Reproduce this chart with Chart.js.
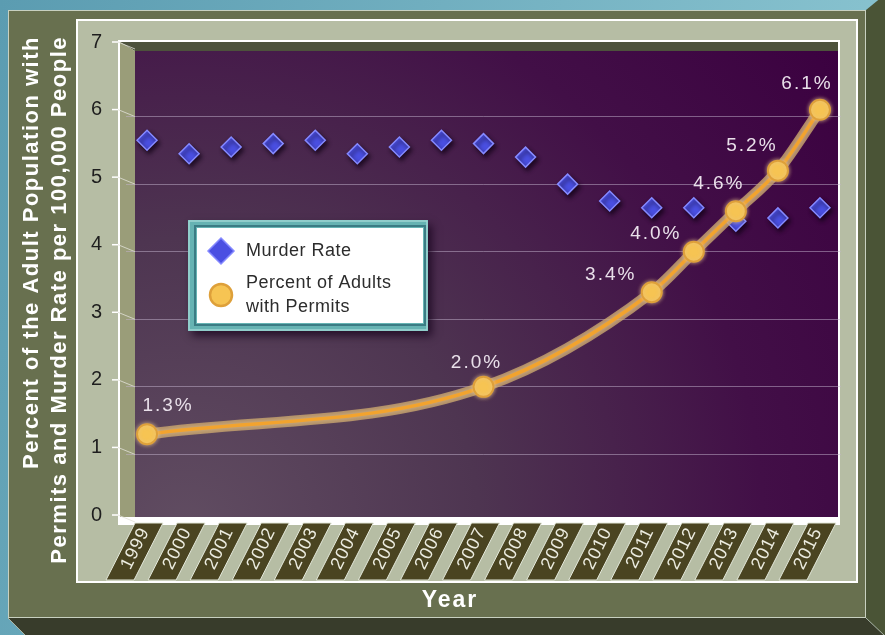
<!DOCTYPE html>
<html>
<head>
<meta charset="utf-8">
<title>Murder Rate and Adults with Permits</title>
<script src="https://cdn.jsdelivr.net/npm/chart.js@4.4.1/dist/chart.umd.min.js"></script>
<style>
    html, body { margin: 0; padding: 0; background: #6aaabb; }
    #chart { display: block; }
</style>
</head>
<body>
<canvas id="chart" width="885" height="635"></canvas>
<script>
/*********************** Data ************************/
var years = ['1999', '2000', '2001', '2002', '2003', '2004', '2005', '2006', '2007',
             '2008', '2009', '2010', '2011', '2012', '2013', '2014', '2015'];
var murderRate = [5.65, 5.45, 5.55, 5.6, 5.65, 5.45, 5.55, 5.65, 5.6,
                  5.4, 5.0, 4.75, 4.65, 4.65, 4.45, 4.5, 4.65];
var permitPercent = [1.3, null, null, null, null, null, null, null, 2.0,
                     null, null, null, 3.4, 4.0, 4.6, 5.2, 6.1];
var yTicks = [0, 1, 2, 3, 4, 5, 6, 7];
var seriesNames = ['Murder Rate', 'Percent of Adults with Permits'];
var yTitle = ['Percent of the Adult Population with', 'Permits and Murder Rate per 100,000 People'];
var xTitle = 'Year';

/*********************** Look ************************/
var FONT = 'Arial, "Liberation Sans", Helvetica, sans-serif';
// where each % label sits relative to its point (dx, dy)
var labelNudge = { 0: [21, -28], 8: [-7, -24], 12: [-41, -17], 13: [-38, -18],
                   14: [-17, -27], 15: [-26, -25], 16: [-13, -26] };

function poly(ctx, pts) {
    ctx.beginPath();
    ctx.moveTo(pts[0][0], pts[0][1]);
    for (var i = 1; i < pts.length; i++) ctx.lineTo(pts[i][0], pts[i][1]);
    ctx.closePath();
    ctx.fill();
}

/*********************** Frame + plot background ************************/
var framePlugin = {
    id: 'frame',
    beforeDraw: function (chart) {
        var ctx = chart.ctx, a = chart.chartArea;
        var x = chart.scales.x, y = chart.scales.y;
        ctx.save();

        // sky behind the board
        var sky = ctx.createLinearGradient(0, 0, 885, 300);
        sky.addColorStop(0, '#5b9cb1');
        sky.addColorStop(1, '#8cc6d2');
        ctx.fillStyle = sky;
        ctx.fillRect(0, 0, 885, 635);

        // board sides
        ctx.fillStyle = '#4a5436';
        poly(ctx, [[866, 10], [888, -8], [888, 640], [866, 618]]);
        ctx.fillStyle = '#383c2b';
        poly(ctx, [[8, 618], [866, 618], [886, 637], [27, 637]]);
        ctx.strokeStyle = '#a9b4a4';
        ctx.lineWidth = 1;
        ctx.beginPath();
        ctx.moveTo(866, 618); ctx.lineTo(885, 636);
        ctx.moveTo(8, 618); ctx.lineTo(26, 636);
        ctx.stroke();

        // board front
        ctx.fillStyle = '#68704f';
        ctx.fillRect(8, 10, 858, 608);
        ctx.strokeStyle = '#c8d0c0';
        ctx.strokeRect(8.5, 10.5, 857, 607);

        // light panel
        ctx.fillStyle = '#b6bda4';
        ctx.fillRect(77, 20, 780, 562);
        ctx.strokeStyle = '#ffffff';
        ctx.lineWidth = 2;
        ctx.strokeRect(77, 20, 780, 562);

        // plot box: white frame, 3D walls, dark back
        var L = a.left, T = a.top, R = a.right, B = a.bottom;
        ctx.fillStyle = '#ffffff';
        ctx.fillRect(L - 8, T - 9, R - L + 7, B - T + 12);
        ctx.fillStyle = '#4d523c';
        poly(ctx, [[L - 6, T - 7], [R - 3, T - 7], [R - 3, T + 2], [L + 9, T + 2]]);
        ctx.fillStyle = '#9a9d79';
        poly(ctx, [[L - 6, T - 7], [L + 9, T + 2], [L + 9, B - 5], [L - 6, B - 5]]);
        var bg = ctx.createRadialGradient(L + 60, B + 10, 10, L + 60, B + 10, 820);
        bg.addColorStop(0, '#604c61');
        bg.addColorStop(0.35, '#4e3551');
        bg.addColorStop(0.7, '#420f47');
        bg.addColorStop(1, '#3b0040');
        ctx.fillStyle = bg;
        ctx.fillRect(L + 9, T + 2, R - L - 12, B - T - 7);

        // y tick marks running onto the wall
        yTicks.forEach(function (v) {
            var py = y.getPixelForValue(v);
            ctx.strokeStyle = '#ffffff';
            ctx.lineWidth = 1.5;
            ctx.beginPath();
            ctx.moveTo(L - 14, py - 7); ctx.lineTo(L - 8, py - 7);
            ctx.stroke();
            ctx.strokeStyle = 'rgba(225,225,215,0.8)';
            ctx.lineWidth = 1;
            ctx.beginPath();
            ctx.moveTo(L - 8, py - 7); ctx.lineTo(L + 9, py);
            ctx.stroke();
        });

        // slanted tiles under the year labels
        ctx.lineWidth = 1;
        years.forEach(function (yr, i) {
            var px = x.getPixelForTick(i);
            ctx.fillStyle = '#4a4421';
            ctx.strokeStyle = '#e3e8da';
            ctx.beginPath();
            ctx.moveTo(px - 12, B + 1); ctx.lineTo(px + 16, B + 1);
            ctx.lineTo(px - 13, B + 58); ctx.lineTo(px - 41, B + 58);
            ctx.closePath();
            ctx.fill();
            ctx.stroke();
        });

        // axis titles
        ctx.fillStyle = '#ffffff';
        ctx.font = 'bold 22px ' + FONT;
        ctx.letterSpacing = '1.5px';
        ctx.textAlign = 'right';
        ctx.textBaseline = 'alphabetic';
        [[38, yTitle[0]], [66, yTitle[1]]].forEach(function (ln) {
            ctx.save();
            ctx.translate(ln[0], 36);
            ctx.rotate(-Math.PI / 2);
            ctx.fillText(ln[1], 0, 0);
            ctx.restore();
        });
        ctx.font = 'bold 23px ' + FONT;
        ctx.letterSpacing = '2px';
        ctx.textAlign = 'center';
        ctx.textBaseline = 'middle';
        ctx.fillText(xTitle, 450, 601);

        ctx.restore();
        // chart's own tick text gets the same loose spacing
        ctx.letterSpacing = '1px';
    }
};

/*********************** Glow and shadows on the series ************************/
var glowPlugin = {
    id: 'glow',
    beforeDatasetDraw: function (chart, args) {
        var ctx = chart.ctx;
        ctx.save();
        if (args.index === 0) {
            ctx.shadowColor = 'rgba(15,0,20,0.75)';
            ctx.shadowBlur = 4;
            ctx.shadowOffsetX = 2;
            ctx.shadowOffsetY = 3;
        } else {
            var line = args.meta.dataset;
            var saved = line.options;
            line.options = Object.assign({}, saved, { borderWidth: 11, borderColor: 'rgba(200,165,110,0.8)' });
            line.draw(ctx, chart.chartArea);
            line.options = saved;
            ctx.shadowColor = 'rgba(230,195,140,0.8)';
            ctx.shadowBlur = 4;
        }
    },
    afterDatasetDraw: function (chart) {
        chart.ctx.restore();
    }
};

/*********************** % labels + legend ************************/
var labelPlugin = {
    id: 'labels',
    afterDatasetsDraw: function (chart) {
        var ctx = chart.ctx;
        var meta = chart.getDatasetMeta(1);
        ctx.save();
        ctx.font = '19px ' + FONT;
        ctx.letterSpacing = '2px';
        ctx.fillStyle = '#e9e0ea';
        ctx.textAlign = 'center';
        ctx.textBaseline = 'middle';
        meta.data.forEach(function (pt, i) {
            var v = permitPercent[i];
            if (v == null) return;
            var n = labelNudge[i] || [0, -25];
            ctx.fillText(v.toFixed(1) + '%', pt.x + n[0], pt.y + n[1]);
        });
        ctx.restore();
    },
    afterDraw: function (chart) {
        var ctx = chart.ctx;
        var ds = chart.data.datasets;
        ctx.save();
        // shadow + teal frame + white box
        ctx.shadowColor = 'rgba(20,0,25,0.7)';
        ctx.shadowBlur = 8;
        ctx.shadowOffsetX = 4;
        ctx.shadowOffsetY = 5;
        ctx.fillStyle = '#66b3b3';
        ctx.fillRect(188, 220, 240, 111);
        ctx.shadowColor = 'transparent';
        ctx.strokeStyle = '#9fd6d4';
        ctx.lineWidth = 1.5;
        ctx.strokeRect(189, 221, 238, 109);
        ctx.strokeStyle = '#3b7c84';
        ctx.lineWidth = 2;
        ctx.strokeRect(195, 226, 230, 99);
        ctx.fillStyle = '#ffffff';
        ctx.fillRect(197, 228, 226, 95);

        // markers
        ctx.fillStyle = ds[0].backgroundColor;
        ctx.strokeStyle = ds[0].borderColor;
        ctx.lineWidth = 1.5;
        ctx.beginPath();
        ctx.moveTo(221, 238); ctx.lineTo(234, 251); ctx.lineTo(221, 264); ctx.lineTo(208, 251);
        ctx.closePath();
        ctx.fill();
        ctx.stroke();
        ctx.fillStyle = ds[1].pointBackgroundColor;
        ctx.strokeStyle = ds[1].pointBorderColor;
        ctx.lineWidth = 2.5;
        ctx.beginPath();
        ctx.arc(221, 295, 11, 0, Math.PI * 2);
        ctx.fill();
        ctx.stroke();

        // names, wrapped to the box
        ctx.font = '18px ' + FONT;
        ctx.letterSpacing = '0.5px';
        ctx.fillStyle = '#2c2c2c';
        ctx.textAlign = 'left';
        ctx.textBaseline = 'middle';
        ctx.fillText(ds[0].label, 246, 251);
        var words = ds[1].label.split(' '), lines = [''];
        words.forEach(function (w) {
            var cur = lines[lines.length - 1];
            var test = cur ? cur + ' ' + w : w;
            if (ctx.measureText(test).width > 170 && cur) lines.push(w);
            else lines[lines.length - 1] = test;
        });
        lines.forEach(function (ln, k) {
            ctx.fillText(ln, 246, 283 + k * 24);
        });
        ctx.restore();
    }
};

/*********************** Chart ************************/
var ctx = document.getElementById('chart').getContext('2d');
var myChart = new Chart(ctx, {
    type: 'line',
    data: {
        labels: years,
        datasets: [{
            label: seriesNames[0],
            data: murderRate,
            showLine: false,
            order: 2,
            pointStyle: 'rectRot',
            pointRadius: 10,
            backgroundColor: '#4a4fe2',
            borderColor: '#8589ff',
            pointBorderWidth: 1.5
        }, {
            label: seriesNames[1],
            data: permitPercent,
            order: 1,
            spanGaps: true,
            cubicInterpolationMode: 'monotone',
            borderColor: '#f2a32e',
            borderWidth: 3.5,
            pointRadius: 10,
            pointBackgroundColor: '#f6c453',
            pointBorderColor: '#dea03a',
            pointBorderWidth: 2
        }]
    },
    options: {
        responsive: false,
        animation: false,
        layout: { padding: { top: 49, right: 44, bottom: 0, left: 0 } },
        plugins: {
            legend: { display: false },
            tooltip: { enabled: false }
        },
        scales: {
            x: {
                offset: true,
                grid: { display: false },
                border: { display: false },
                ticks: {
                    color: '#ecece0',
                    font: { family: FONT, size: 18 },
                    minRotation: 64,
                    maxRotation: 64,
                    autoSkip: false,
                    padding: -6,
                    labelOffset: -2
                },
                afterFit: function (scale) { scale.height = 113; }
            },
            y: {
                min: 0,
                max: 7,
                afterBuildTicks: function (scale) {
                    scale.ticks = yTicks.map(function (v) { return { value: v }; });
                },
                grid: {
                    drawTicks: false,
                    lineWidth: 1,
                    color: function (c) {
                        var v = c.tick && c.tick.value;
                        return (v === 0 || v === 7) ? 'rgba(0,0,0,0)' : 'rgba(195,180,205,0.5)';
                    }
                },
                border: { display: false },
                ticks: {
                    color: '#1e1e1e',
                    font: { family: FONT, size: 20 },
                    padding: 23,
                    labelOffset: -7
                },
                afterFit: function (scale) { scale.width = 126; }
            }
        }
    },
    plugins: [framePlugin, glowPlugin, labelPlugin]
});
</script>
</body>
</html>
